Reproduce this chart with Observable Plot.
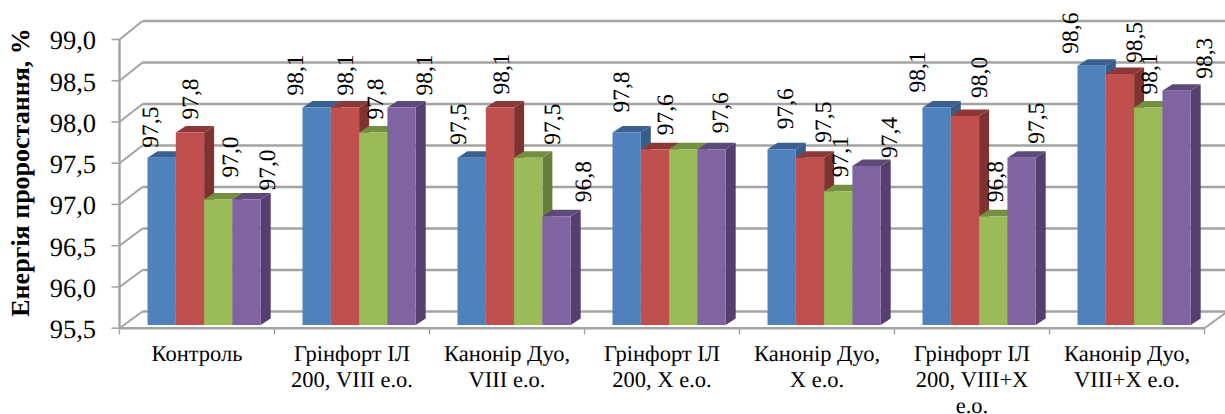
<!DOCTYPE html>
<html><head><meta charset="utf-8">
<script src="https://cdn.jsdelivr.net/npm/d3@7"></script>
<script src="https://cdn.jsdelivr.net/npm/@observablehq/plot@0.6"></script>
<style>html,body{margin:0;padding:0;background:#fff}svg{display:block}
svg text{font-family:"Liberation Serif","Times New Roman",serif !important;text-rendering:geometricPrecision}</style>
</head><body><div id="chart"></div>
<script>
const categories = ["Контроль","Грінфорт ІЛ\n200, VIII е.о.","Канонір Дуо,\nVIII е.о.","Грінфорт ІЛ\n200, X е.о.","Канонір Дуо,\nX е.о.","Грінфорт ІЛ\n200, VIII+X\nе.о.","Канонір Дуо,\nVIII+X е.о."];
const series1 = [97.5,98.1,97.5,97.8,97.6,98.1,98.6];
const series2 = [97.8,98.1,98.1,97.6,97.5,98.0,98.5];
const series3 = [97.0,97.8,97.5,97.6,97.1,96.8,98.1];
const series4 = [97.0,98.1,96.8,97.6,97.4,97.5,98.3];
const yTicks = [95.5,96,96.5,97,97.5,98,98.5,99];
const frontColors = ["#4F81BD","#C0504D","#9BBB59","#8064A2"];
const sideColors  = ["#385D8A","#7F3330","#667F3A","#553E70"];
const topColors   = ["#3A6191","#8C3836","#728F42","#5E4A7A"];
const yAxisTitle = "Енергія проростання, %";

// label nudges in pixels (layout only): [dx, dy] per bar of each group
const nudges = [
  [[-11,-10],[0.5,-13],[12,-22],[21,-9]],
  [[-21,-12],[0.5,-12],[2,-13],[23,-12]],
  [[-13,-13],[1.5,-13],[24,-13],[27,-14]],
  [[-5,-20],[10.5,-14],null,[9,-16]],
  [[4,-20],[13.5,-15],[2,-14],[23,-8]],
  [[-19,-15],[14.5,-18],[2,-14],[15,-14]],
  [[-21,-12],[14.5,-11],[1,-13],[28,-12]]
];

const X0 = 119, CAT = 155, PXY = 83.6, YB = 324.4;
const series = [series1,series2,series3,series4];
const px2x = p => (p - X0) / CAT;
const px2y = p => 95.5 + (YB - p) / PXY;
const dxU = 10 / CAT, dyU = 6.5 / PXY;
const groupStart = 28 / CAT, barW = 28.3 / CAT;
const base = 95.5;

// 3D faces, painted bar after bar
const faces = [];
let id = 0;
categories.forEach((_, i) => series.forEach((s, j) => {
  const v = s[i], l = i + groupStart + j * barW, r = l + barW;
  const add = (fill, pts) => { id++; pts.forEach(([x,y]) => faces.push({x,y,fill,z:id})); };
  add(sideColors[j], [[r,v],[r+dxU,v+dyU],[r+dxU,base+dyU],[r,base]]);
  add(topColors[j], [[l,v],[l+dxU,v+dyU],[r+dxU,v+dyU],[r,v]]);
  add(frontColors[j], [[l,base],[l,v],[r,v],[r,base]]);
}));

const labels = [];
categories.forEach((_, i) => series.forEach((s, j) => {
  const n = nudges[i][j];
  if (!n) return;
  labels.push({
    x: i + groupStart + (j + 0.5) * barW + n[0] / CAT,
    y: s[i] - n[1] / PXY,
    t: s[i].toFixed(1).replace(".", ",")
  });
}));

const frontPx = v => 327.7 - (v - 95.5) * 82.5;
const backPx  = v => 311 - (v - 95.5) * 83;
const wall = 23 / CAT;
const grid = yTicks.map(v => ({
  x0: 0, y0: px2y(frontPx(v)), x1: wall, y1: px2y(backPx(v)), x2: px2x(1240)
}));
const gray = "#A3A3A3";

const plot = Plot.plot({
  width: 1225, height: 414,
  marginTop: 0, marginRight: 0, marginBottom: 0, marginLeft: 0,
  style: {fontFamily: "'Liberation Serif', serif", background: "#fff", color: "#000"},
  x: {domain: [0, 7], range: [X0, 1204], axis: null},
  y: {domain: [95.5, 99], range: [YB, YB - 3.5 * PXY], axis: null},
  marks: [
    Plot.link(grid, {x1: "x1", y1: "y1", x2: "x2", y2: "y1", stroke: gray, strokeWidth: 2.4}),
    Plot.link(grid, {x1: "x0", y1: "y0", x2: "x1", y2: "y1", stroke: gray, strokeWidth: 2}),
    Plot.link([0], {x1: () => 7, y1: () => px2y(frontPx(95.5)), x2: () => 7 + wall, y2: () => px2y(backPx(95.5)), stroke: gray, strokeWidth: 2}),
    Plot.link([0], {x1: () => 0, y1: () => px2y(frontPx(95.5)), x2: () => 0, y2: () => px2y(frontPx(99)), stroke: gray, strokeWidth: 2.4}),
    Plot.link(yTicks, {x1: () => px2x(111), y1: d => px2y(frontPx(d)), x2: () => 0, y2: d => px2y(frontPx(d)), stroke: gray, strokeWidth: 1.6}),
    Plot.line(faces, {x: "x", y: "y", z: "z", fill: "fill", stroke: "none", curve: "linear"}),
    Plot.link([0], {x1: () => 0, y1: () => px2y(frontPx(95.5)), x2: () => 7, y2: () => px2y(frontPx(95.5)), stroke: gray, strokeWidth: 2.4}),
    Plot.link(d3.range(8), {x1: d => d, y1: () => px2y(frontPx(95.5)), x2: d => d, y2: () => px2y(334), stroke: gray, strokeWidth: 1.4}),
    Plot.text(yTicks, {x: () => px2x(95.5), y: d => px2y(frontPx(d) + 1.5), text: d => d.toFixed(1).replace(".", ","), textAnchor: "end", lineAnchor: "middle", fontSize: 26.5, fill: "#000"}),
    Plot.text(categories, {x: (d, i) => i + 0.5, y: () => px2y(342.5), text: d => d, lineAnchor: "top", textAnchor: "middle", fontSize: 22.5, lineHeight: 1.15, fill: "#000"}),
    Plot.text(labels, {x: "x", y: "y", text: "t", rotate: -90, textAnchor: "start", lineAnchor: "middle", fontSize: 23.5, fill: "#000"}),
    Plot.text([yAxisTitle], {x: () => px2x(20), y: () => px2y(172), text: d => d, rotate: -90, textAnchor: "middle", lineAnchor: "middle", fontSize: 26, fontWeight: "bold", fill: "#000"})
  ]
});
document.getElementById("chart").append(plot);
</script></body></html>
